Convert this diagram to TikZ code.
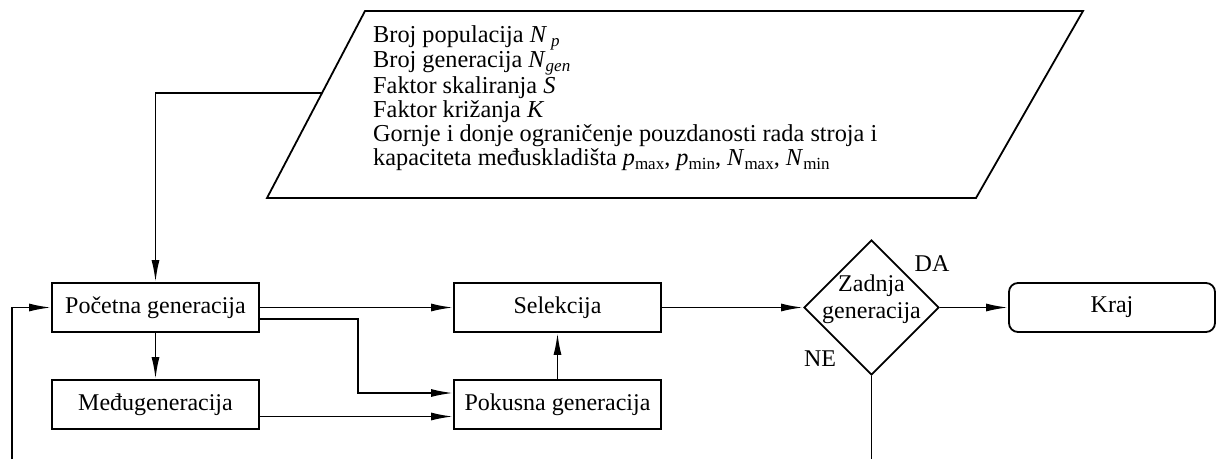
\documentclass[tikz,border=0pt]{standalone}
\usepackage{fontspec}
\setmainfont{Liberation Serif}
\usetikzlibrary{arrows.meta,shapes.geometric,calc}
\newcommand\sbs[1]{\raisebox{-0.4ex}{\fontsize{17}{17}\selectfont #1}}
\begin{document}
\begin{tikzpicture}[x=1pt,y=-1pt,
 box/.style={draw,line width=1.8pt,minimum width=207pt,minimum height=49pt,inner sep=0pt,font=\fontsize{24}{26}\selectfont},
 arr/.style={line width=1.8pt,-{Latex[length=22pt,width=8pt]}},
 ln/.style={line width=1.8pt},
 lbl/.style={inner sep=0pt,font=\fontsize{24}{26}\selectfont}]
\useasboundingbox (0,0) rectangle (1216,459);
% parallelogram
\coordinate (pa) at (267,198);
\coordinate (pb) at (365,11);
\coordinate (pc) at (1083,11);
\coordinate (pd) at (976,198);
\draw[ln,line join=miter] (pa) -- (pb) -- (pc) -- (pd) -- cycle;
\node[anchor=north west,align=left,inner sep=0pt,font=\fontsize{24.3}{24}\selectfont] (ptext) at (373,25)
 {Broj populacija \textit{N}\,\sbs{\textit{p}}\\
  Broj generacija \textit{N}\sbs{\textit{gen}}\\
  Faktor skaliranja \textit{S}\\
  Faktor križanja \textit{K}\\
  Gornje i donje ograničenje pouzdanosti rada stroja i\\
  kapaciteta međuskladišta \textit{p}\sbs{max}, \textit{p}\sbs{min}, \textit{N}\sbs{max}, \textit{N}\sbs{min}};
\coordinate (pin) at ($(pa)!0.5615!(pb)$);
% boxes
\node[box] (poc) at (155.5,307.5) {Početna generacija};
\node[box] (med) at (155.5,404.5) {Međugeneracija};
\node[box] (sel) at (557.5,307.5) {Selekcija};
\node[box] (pok) at (557.5,404.5) {Pokusna generacija};
\node[diamond,draw,line width=1.8pt,minimum width=135pt,minimum height=135pt,inner sep=0pt,aspect=1] (dec) at (871.5,307.5) {};
\node[lbl,align=center,font=\fontsize{24}{27}\selectfont] (dectext) at (871.5,299) {Zadnja\\generacija};
\node[box,rounded corners=9pt,minimum width=206pt] (kraj) at (1112,307.5) {Kraj};
\node[lbl] (da) at (932,264) {DA};
\node[lbl] (ne) at (820,359) {NE};
\coordinate (fbl) at (12,459);
\coordinate (fbr) at (871.5,459);
% connectors
\draw[arr] (pin) -| (poc.north);
\draw[arr] (poc.south) -- (med.north);
\draw[arr] (poc.east) -- (sel.west);
\draw[arr] ([yshift=-11.5pt]poc.east) -- ++(98,0) |- ([yshift=11.5pt]pok.west);
\draw[arr] ([yshift=-12pt]med.east) -- ([yshift=-12pt]pok.west);
\draw[arr] (pok.north) -- (sel.south);
\draw[arr] (sel.east) -- (dec.west);
\draw[arr] (dec.east) -- (kraj.west);
\draw[ln] (dec.south) -- (fbr);
\draw[arr] (fbl) |- (poc.west);
\end{tikzpicture}
\end{document}
